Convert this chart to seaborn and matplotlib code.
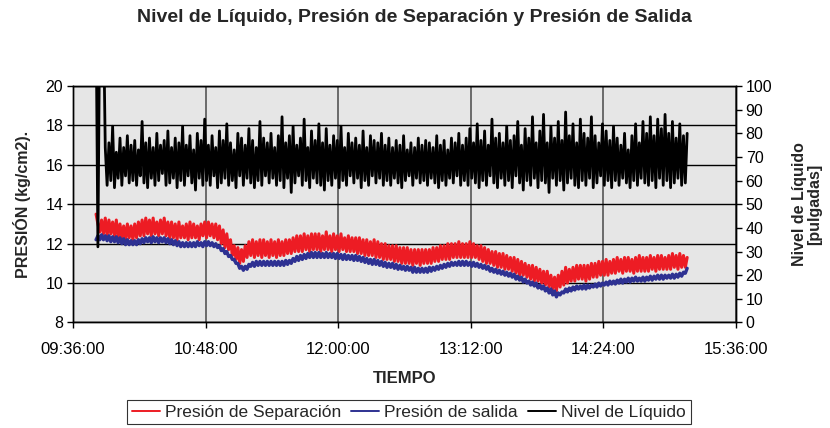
import matplotlib
matplotlib.use('Agg')
import matplotlib.pyplot as plt
import matplotlib.dates as mdates
from matplotlib.lines import Line2D
import pandas as pd
import seaborn as sns

# Datos (una lectura por minuto desde las 09:48:30)
inicio = '2000-01-01 09:48:30'
paso = '1min'

presion_separacion = [
    13.5, 13.0, 12.6, 13.2, 12.5, 13.3, 12.4, 13.2, 12.5, 13.1, 12.4, 13.2, 12.3, 13.0, 12.3, 12.9, 12.2, 13.0, 12.3, 12.9,
    12.2, 13.0, 12.3, 13.1, 12.4, 13.2, 12.4, 13.3, 12.5, 13.2, 12.4, 13.3, 12.5, 13.1, 12.4, 13.2, 12.5, 13.3, 12.4, 13.1,
    12.3, 13.1, 12.3, 13.0, 12.2, 13.1, 12.3, 12.9, 12.3, 13.0, 12.2, 13.1, 12.3, 13.0, 12.3, 12.9, 12.2, 13.0, 12.4, 13.1,
    12.3, 13.1, 12.4, 13.0, 12.3, 13.0, 12.2, 12.9, 12.0, 12.7, 11.8, 12.5, 11.7, 12.2, 11.4, 11.9, 11.2, 11.8, 11.0, 11.7,
    11.1, 11.9, 11.3, 12.1, 11.4, 12.2, 11.3, 12.1, 11.4, 12.2, 11.3, 12.2, 11.4, 12.1, 11.3, 12.2, 11.4, 12.1, 11.3, 12.2,
    11.4, 12.1, 11.4, 12.2, 11.5, 12.2, 11.5, 12.3, 11.6, 12.4, 11.6, 12.4, 11.6, 12.5, 11.7, 12.4, 11.6, 12.5, 11.7, 12.5,
    11.7, 12.5, 11.6, 12.4, 11.7, 12.6, 11.7, 12.4, 11.6, 12.5, 11.7, 12.4, 11.6, 12.5, 11.7, 12.3, 11.6, 12.4, 11.6, 12.3,
    11.6, 12.3, 11.5, 12.3, 11.5, 12.2, 11.4, 12.2, 11.4, 12.1, 11.4, 12.2, 11.3, 12.1, 11.3, 12.0, 11.2, 12.0, 11.2, 11.9,
    11.2, 11.9, 11.1, 11.9, 11.1, 11.8, 11.0, 11.8, 11.0, 11.8, 11.0, 11.7, 10.9, 11.7, 11.0, 11.7, 10.9, 11.7, 11.0, 11.7,
    11.0, 11.7, 11.0, 11.8, 11.1, 11.8, 11.1, 11.9, 11.2, 11.9, 11.2, 12.0, 11.2, 12.0, 11.3, 12.0, 11.3, 12.1, 11.3, 12.0,
    11.3, 12.0, 11.3, 12.1, 11.3, 12.0, 11.3, 11.9, 11.2, 11.9, 11.1, 11.8, 11.0, 11.7, 11.0, 11.6, 10.9, 11.6, 10.8, 11.5,
    10.8, 11.5, 10.7, 11.4, 10.7, 11.3, 10.6, 11.3, 10.5, 11.2, 10.4, 11.1, 10.4, 11.0, 10.3, 10.9, 10.2, 10.9, 10.1, 10.8,
    10.1, 10.7, 10.0, 10.6, 9.9, 10.6, 9.8, 10.4, 9.7, 10.3, 9.6, 10.4, 9.8, 10.6, 9.9, 10.8, 10.0, 10.7, 10.1, 10.8,
    10.1, 10.9, 10.2, 10.9, 10.2, 10.9, 10.1, 10.9, 10.2, 11.0, 10.3, 11.0, 10.3, 11.1, 10.4, 11.1, 10.4, 11.2, 10.4, 11.1,
    10.5, 11.2, 10.5, 11.3, 10.6, 11.2, 10.5, 11.3, 10.6, 11.3, 10.6, 11.2, 10.5, 11.3, 10.6, 11.4, 10.6, 11.3, 10.6, 11.3,
    10.6, 11.4, 10.7, 11.3, 10.6, 11.4, 10.7, 11.4, 10.7, 11.3, 10.7, 11.4, 10.7, 11.5, 10.8, 11.4, 10.7, 11.5, 10.8, 11.4,
    10.8, 11.3,
]

presion_salida = [
    12.2, 12.4, 12.2, 12.45, 12.2, 12.4, 12.15, 12.4, 12.1, 12.35, 12.1, 12.35, 12.05, 12.3, 12.0, 12.25, 11.95, 12.2, 11.95, 12.15,
    11.95, 12.15, 11.95, 12.2, 12.0, 12.25, 12.05, 12.3, 12.1, 12.3, 12.05, 12.35, 12.1, 12.3, 12.05, 12.3, 12.1, 12.3, 12.05, 12.25,
    12.0, 12.2, 11.95, 12.15, 11.9, 12.1, 11.85, 12.05, 11.85, 12.05, 11.85, 12.05, 11.85, 12.05, 11.85, 12.1, 11.9, 12.05, 11.85, 12.1,
    11.9, 12.1, 11.9, 12.05, 11.85, 12.0, 11.8, 11.9, 11.65, 11.75, 11.5, 11.6, 11.35, 11.4, 11.2, 11.2, 11.0, 11.0, 10.75, 10.85,
    10.65, 10.85, 10.7, 10.95, 10.85, 11.05, 10.85, 11.1, 10.9, 11.1, 10.9, 11.1, 10.9, 11.1, 10.9, 11.1, 10.9, 11.1, 10.9, 11.1,
    10.9, 11.1, 10.9, 11.15, 10.95, 11.15, 11.0, 11.25, 11.1, 11.35, 11.15, 11.4, 11.2, 11.45, 11.25, 11.5, 11.3, 11.55, 11.3, 11.55,
    11.3, 11.55, 11.3, 11.5, 11.3, 11.55, 11.3, 11.5, 11.3, 11.5, 11.25, 11.5, 11.25, 11.45, 11.2, 11.45, 11.2, 11.4, 11.2, 11.4,
    11.15, 11.4, 11.15, 11.35, 11.1, 11.3, 11.05, 11.25, 11.0, 11.2, 10.95, 11.2, 10.95, 11.15, 10.9, 11.1, 10.85, 11.05, 10.8, 11.0,
    10.8, 11.0, 10.75, 10.95, 10.7, 10.9, 10.7, 10.85, 10.65, 10.85, 10.65, 10.8, 10.55, 10.8, 10.55, 10.75, 10.55, 10.75, 10.55, 10.75,
    10.55, 10.8, 10.6, 10.8, 10.65, 10.85, 10.7, 10.9, 10.75, 10.95, 10.8, 11.0, 10.85, 11.05, 10.9, 11.05, 10.9, 11.1, 10.9, 11.1,
    10.9, 11.1, 10.9, 11.05, 10.85, 11.05, 10.85, 11.0, 10.8, 10.95, 10.75, 10.9, 10.7, 10.85, 10.6, 10.75, 10.55, 10.7, 10.5, 10.65,
    10.45, 10.6, 10.4, 10.55, 10.35, 10.5, 10.3, 10.45, 10.2, 10.35, 10.15, 10.3, 10.05, 10.2, 10.0, 10.1, 9.9, 10.05, 9.85, 10.0,
    9.75, 9.9, 9.7, 9.85, 9.6, 9.75, 9.5, 9.7, 9.4, 9.6, 9.3, 9.5, 9.4, 9.55, 9.5, 9.7, 9.55, 9.75, 9.6, 9.8,
    9.65, 9.85, 9.7, 9.85, 9.7, 9.9, 9.7, 9.9, 9.75, 9.9, 9.8, 9.95, 9.8, 10.0, 9.85, 10.0, 9.9, 10.05, 9.9, 10.1,
    9.95, 10.1, 9.95, 10.15, 10.0, 10.2, 10.0, 10.2, 10.05, 10.25, 10.05, 10.25, 10.1, 10.3, 10.1, 10.25, 10.1, 10.3, 10.1, 10.3,
    10.15, 10.35, 10.15, 10.35, 10.2, 10.4, 10.2, 10.4, 10.2, 10.4, 10.25, 10.4, 10.25, 10.45, 10.25, 10.45, 10.3, 10.5, 10.35, 10.55,
    10.5, 10.75,
]

nivel_liquido = [
    130, 32, 130, 130, 130, 74, 58, 76, 60, 83, 57, 72, 61, 78, 58, 74, 62, 79, 59, 75,
    60, 77, 58, 73, 62, 85, 59, 76, 57, 78, 61, 74, 58, 80, 60, 75, 63, 77, 58, 81,
    59, 74, 61, 78, 57, 76, 60, 83, 58, 75, 62, 79, 59, 73, 56, 80, 61, 77, 58, 86,
    60, 75, 58, 79, 62, 74, 57, 81, 59, 77, 61, 84, 58, 76, 60, 73, 57, 80, 62, 78,
    58, 75, 61, 82, 59, 77, 57, 74, 60, 85, 58, 78, 62, 76, 59, 80, 61, 74, 58, 79,
    60, 87, 57, 76, 61, 79, 55, 83, 59, 75, 62, 78, 58, 86, 60, 74, 57, 81, 61, 77,
    59, 84, 58, 76, 56, 82, 60, 75, 58, 79, 61, 77, 57, 83, 60, 74, 58, 80, 62, 76,
    59, 78, 61, 75, 57, 81, 60, 74, 58, 79, 62, 77, 59, 76, 61, 80, 58, 75, 60, 78,
    58, 74, 61, 77, 59, 75, 57, 79, 60, 73, 62, 76, 58, 74, 61, 78, 59, 75, 60, 77,
    58, 76, 61, 74, 59, 79, 57, 75, 60, 77, 58, 73, 61, 78, 59, 76, 62, 80, 58, 75,
    60, 78, 58, 82, 61, 76, 59, 84, 57, 77, 60, 81, 58, 75, 62, 86, 59, 78, 57, 80,
    61, 76, 58, 83, 60, 77, 57, 79, 62, 85, 59, 75, 56, 82, 60, 78, 58, 87, 61, 76,
    57, 81, 60, 88, 59, 76, 55, 83, 61, 78, 58, 85, 60, 77, 56, 89, 59, 79, 61, 84,
    58, 76, 57, 86, 60, 80, 58, 78, 61, 87, 57, 79, 59, 76, 62, 84, 58, 81, 60, 77,
    57, 83, 60, 78, 58, 75, 61, 80, 59, 73, 57, 79, 60, 84, 58, 76, 61, 85, 59, 80,
    58, 87, 60, 79, 57, 86, 61, 82, 58, 88, 60, 80, 57, 85, 59, 78, 61, 84, 58, 79,
    59, 80,
]

etiquetas_x = ['09:36:00', '10:48:00', '12:00:00', '13:12:00', '14:24:00', '15:36:00']
ticks_presion = [8, 10, 12, 14, 16, 18, 20]
ticks_nivel = [0, 10, 20, 30, 40, 50, 60, 70, 80, 90, 100]
series = ['Presión de Separación', 'Presión de salida', 'Nivel de Líquido']

ROJO = '#ED1C24'
AZUL = '#2E3192'


def configurar_graficos():
    sns.set_theme(style='ticks')
    plt.rcParams['font.family'] = ['Liberation Sans', 'DejaVu Sans']
    plt.rcParams['axes.edgecolor'] = 'black'
    plt.rcParams['xtick.color'] = 'black'
    plt.rcParams['ytick.color'] = 'black'


configurar_graficos()

tiempo = pd.date_range(inicio, periods=len(nivel_liquido), freq=paso)
df = pd.DataFrame({
    'tiempo': tiempo,
    'separacion': presion_separacion,
    'salida': presion_salida,
    'nivel': nivel_liquido,
})
ticks_x = pd.to_datetime(['2000-01-01 ' + t for t in etiquetas_x])

fig = plt.figure(figsize=(8.3, 4.28), dpi=100)
ax = fig.add_axes([0.088, 0.2465, 0.7987, 0.5525])
ax.set_facecolor('#E6E6E6')
ax.set_axisbelow(True)

sns.lineplot(data=df, x='tiempo', y='separacion', color=ROJO, lw=2.2, ax=ax, legend=False)
sns.lineplot(data=df, x='tiempo', y='salida', color=AZUL, lw=2.4, ax=ax, legend=False)

ax2 = ax.twinx()
sns.lineplot(data=df, x='tiempo', y='nivel', color='black', lw=2.0, ax=ax2, legend=False)

ax.set_xlim(ticks_x[0], ticks_x[-1])
ax.set_xticks(ticks_x)
ax.xaxis.set_major_formatter(mdates.DateFormatter('%H:%M:%S'))
ax.set_ylim(8, 20)
ax.set_yticks(ticks_presion)
ax2.set_ylim(0, 100)
ax2.set_yticks(ticks_nivel)

ax.yaxis.grid(True, color='black', lw=1.0)
ax.xaxis.grid(True, color='#555555', lw=1.2)
ax2.grid(False)

for a in (ax, ax2):
    for s in a.spines.values():
        s.set_visible(True)
        s.set_color('black')
        s.set_linewidth(1.0)
    a.tick_params(direction='out', length=4, width=1, labelsize=11.5, pad=3)
ax.tick_params(axis='x', pad=10, labelsize=12)

ax.set_xlabel('TIEMPO', fontsize=12, fontweight='bold', labelpad=10)
ax.set_ylabel('PRESIÓN (kg/cm2).', fontsize=11.5, fontweight='bold')
ax.yaxis.set_label_coords(-0.064, 0.5)
ax2.set_ylabel('Nivel de Líquido\n[pulgadas]', fontsize=11.5, fontweight='bold',
               rotation=90, labelpad=14, linespacing=1.0)

fig.text(0.4994, 1 - 18 / 428, 'Nivel de Líquido, Presión de Separación y Presión de Salida',
         ha='center', va='center', fontsize=14, fontweight='bold')

# Leyenda con marcas propias para no alterar las líneas dibujadas
marcas = [Line2D([], [], color=c, lw=1.4) for c in (ROJO, AZUL, 'black')]
leg = fig.legend(marcas, series, loc='center', bbox_to_anchor=(409 / 830, 1 - 412 / 428),
                 ncol=3, frameon=True, fancybox=False, edgecolor='black', fontsize=12.5,
                 handlelength=1.6, handletextpad=0.3, columnspacing=0.6, borderpad=0.25)
leg.get_frame().set_linewidth(0.8)

fig.savefig('out.png', dpi=100)
